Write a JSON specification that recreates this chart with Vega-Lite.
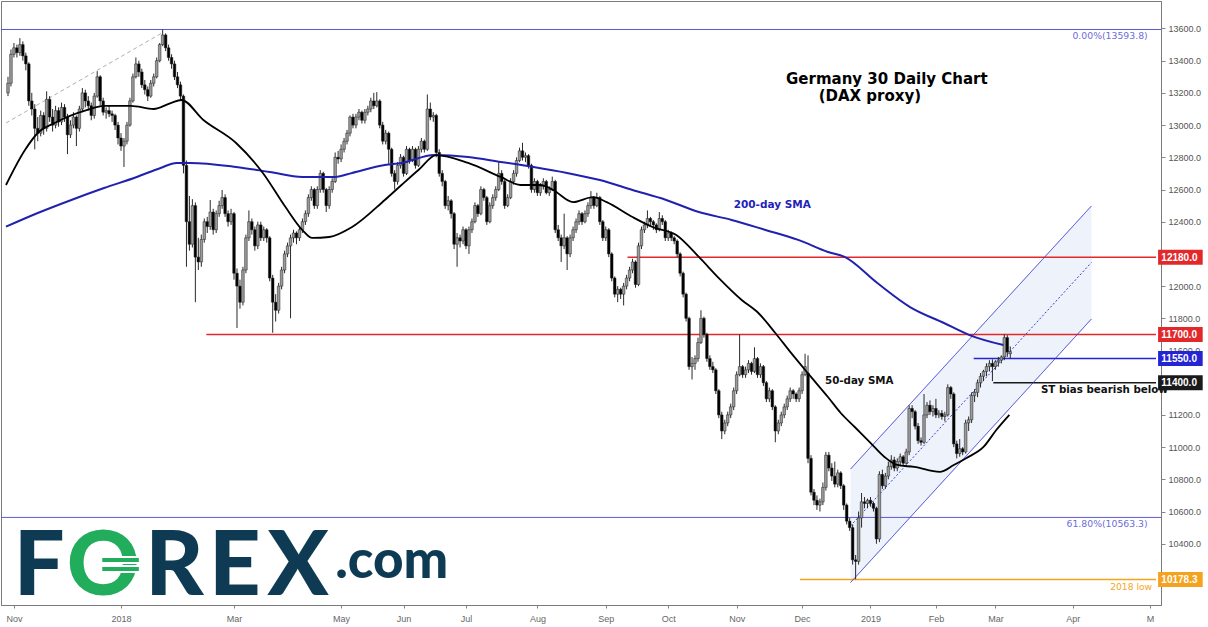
{
  "$schema": "https://vega.github.io/schema/vega-lite/v6.json",
  "width": 1160,
  "height": 604,
  "autosize": {"type": "none"},
  "padding": {"left": 1, "top": 1, "right": 47, "bottom": 22},
  "background": "white",
  "config": {"view": {"stroke": "#7a7a7a", "strokeWidth": 1}, "axis": {"labelOverlap": false, "labelSeparation": 0}},
  "datasets": {
    "candles": [
      {"k":1,"o":13200,"h":13300,"l":13180,"c":13260},{"k":2,"o":13260,"h":13470,"l":13240,"c":13440},{"k":3,"o":13440,"h":13510,"l":13420,"c":13480},{"k":4,"o":13480,"h":13500,"l":13420,"c":13450},{"k":5,"o":13450,"h":13540,"l":13430,"c":13500},
      {"k":6,"o":13500,"h":13520,"l":13400,"c":13430},{"k":7,"o":13430,"h":13450,"l":13340,"c":13380},{"k":8,"o":13380,"h":13390,"l":13120,"c":13150},{"k":9,"o":13150,"h":13200,"l":13060,"c":13100},{"k":10,"o":13100,"h":13130,"l":12850,"c":12980},
      {"k":11,"o":12980,"h":13050,"l":12900,"c":12950},{"k":12,"o":12950,"h":13090,"l":12930,"c":13060},{"k":13,"o":13060,"h":13080,"l":12940,"c":12980},{"k":14,"o":12980,"h":13210,"l":12960,"c":13160},{"k":15,"o":13160,"h":13180,"l":13020,"c":13050},
      {"k":16,"o":13050,"h":13100,"l":12960,"c":13000},{"k":17,"o":13000,"h":13120,"l":12980,"c":13090},{"k":18,"o":13090,"h":13110,"l":12990,"c":13020},{"k":19,"o":13020,"h":13140,"l":13000,"c":13110},{"k":20,"o":13110,"h":13130,"l":13020,"c":13050},
      {"k":21,"o":13050,"h":13070,"l":12820,"c":12940},{"k":22,"o":12940,"h":13030,"l":12920,"c":13000},{"k":23,"o":13000,"h":13080,"l":12980,"c":13050},{"k":24,"o":13050,"h":13060,"l":12870,"c":12980},{"k":25,"o":12980,"h":13120,"l":12960,"c":13100},
      {"k":26,"o":13100,"h":13230,"l":13080,"c":13200},{"k":27,"o":13200,"h":13220,"l":13110,"c":13150},{"k":28,"o":13150,"h":13180,"l":13090,"c":13120},{"k":29,"o":13120,"h":13140,"l":13030,"c":13060},{"k":30,"o":13060,"h":13200,"l":13040,"c":13180},
      {"k":31,"o":13180,"h":13335,"l":13170,"c":13300},{"k":32,"o":13300,"h":13310,"l":13120,"c":13150},{"k":33,"o":13150,"h":13170,"l":13060,"c":13080},{"k":34,"o":13080,"h":13110,"l":13040,"c":13090},{"k":35,"o":13090,"h":13120,"l":13050,"c":13070},
      {"k":36,"o":13070,"h":13090,"l":13020,"c":13060},{"k":37,"o":13060,"h":13070,"l":12970,"c":13000},{"k":38,"o":13000,"h":13020,"l":12880,"c":12920},{"k":39,"o":12920,"h":12950,"l":12840,"c":12870},{"k":40,"o":12870,"h":12920,"l":12740,"c":12900},
      {"k":41,"o":12900,"h":13020,"l":12880,"c":13000},{"k":42,"o":13000,"h":13170,"l":12990,"c":13150},{"k":43,"o":13150,"h":13320,"l":13140,"c":13300},{"k":44,"o":13300,"h":13420,"l":13290,"c":13380},{"k":45,"o":13380,"h":13400,"l":13300,"c":13330},
      {"k":46,"o":13330,"h":13350,"l":13230,"c":13250},{"k":47,"o":13250,"h":13280,"l":13190,"c":13220},{"k":48,"o":13220,"h":13240,"l":13150,"c":13180},{"k":49,"o":13180,"h":13280,"l":13170,"c":13260},{"k":50,"o":13260,"h":13320,"l":13240,"c":13300},
      {"k":51,"o":13300,"h":13420,"l":13290,"c":13400},{"k":52,"o":13400,"h":13510,"l":13390,"c":13500},{"k":53,"o":13500,"h":13594,"l":13490,"c":13560},{"k":54,"o":13560,"h":13570,"l":13460,"c":13480},{"k":55,"o":13480,"h":13500,"l":13400,"c":13420},
      {"k":56,"o":13420,"h":13440,"l":13350,"c":13380},{"k":57,"o":13380,"h":13400,"l":13280,"c":13300},{"k":58,"o":13300,"h":13330,"l":13230,"c":13250},{"k":59,"o":13250,"h":13270,"l":13150,"c":13180},{"k":60,"o":13180,"h":13190,"l":12700,"c":12750},
      {"k":61,"o":12750,"h":12780,"l":12120,"c":12400},{"k":62,"o":12400,"h":12560,"l":12220,"c":12260},{"k":63,"o":12260,"h":12540,"l":12240,"c":12500},{"k":64,"o":12500,"h":12520,"l":11900,"c":12180},{"k":65,"o":12180,"h":12300,"l":12100,"c":12150},
      {"k":66,"o":12150,"h":12320,"l":12120,"c":12290},{"k":67,"o":12290,"h":12420,"l":12270,"c":12400},{"k":68,"o":12400,"h":12430,"l":12330,"c":12370},{"k":69,"o":12370,"h":12535,"l":12350,"c":12460},{"k":70,"o":12460,"h":12480,"l":12320,"c":12350},
      {"k":71,"o":12350,"h":12470,"l":12330,"c":12450},{"k":72,"o":12450,"h":12530,"l":12430,"c":12500},{"k":73,"o":12500,"h":12597,"l":12480,"c":12550},{"k":74,"o":12550,"h":12570,"l":12430,"c":12450},{"k":75,"o":12450,"h":12470,"l":12370,"c":12400},
      {"k":76,"o":12400,"h":12480,"l":12380,"c":12450},{"k":77,"o":12450,"h":12460,"l":12040,"c":12080},{"k":78,"o":12080,"h":12110,"l":11740,"c":12000},{"k":79,"o":12000,"h":12040,"l":11860,"c":11900},{"k":80,"o":11900,"h":12120,"l":11880,"c":12100},
      {"k":81,"o":12100,"h":12320,"l":12080,"c":12300},{"k":82,"o":12300,"h":12470,"l":12280,"c":12400},{"k":83,"o":12400,"h":12420,"l":12320,"c":12350},{"k":84,"o":12350,"h":12370,"l":12220,"c":12250},{"k":85,"o":12250,"h":12400,"l":12230,"c":12380},
      {"k":86,"o":12380,"h":12400,"l":12280,"c":12300},{"k":87,"o":12300,"h":12370,"l":12280,"c":12350},{"k":88,"o":12350,"h":12360,"l":12270,"c":12300},{"k":89,"o":12300,"h":12310,"l":12030,"c":12050},{"k":90,"o":12050,"h":12070,"l":11710,"c":11900},
      {"k":91,"o":11900,"h":11950,"l":11780,"c":11850},{"k":92,"o":11850,"h":12020,"l":11830,"c":12000},{"k":93,"o":12000,"h":12120,"l":11980,"c":12100},{"k":94,"o":12100,"h":12220,"l":12080,"c":12200},{"k":95,"o":12200,"h":12270,"l":12180,"c":12250},
      {"k":96,"o":12250,"h":12320,"l":11800,"c":12300},{"k":97,"o":12300,"h":12350,"l":12270,"c":12330},{"k":98,"o":12330,"h":12340,"l":12260,"c":12300},{"k":99,"o":12300,"h":12370,"l":12280,"c":12350},{"k":100,"o":12350,"h":12420,"l":12330,"c":12400},
      {"k":101,"o":12400,"h":12470,"l":12380,"c":12450},{"k":102,"o":12450,"h":12570,"l":12430,"c":12550},{"k":103,"o":12550,"h":12620,"l":12530,"c":12600},{"k":104,"o":12600,"h":12610,"l":12480,"c":12500},{"k":105,"o":12500,"h":12620,"l":12480,"c":12600},
      {"k":106,"o":12600,"h":12720,"l":12580,"c":12700},{"k":107,"o":12700,"h":12710,"l":12580,"c":12600},{"k":108,"o":12600,"h":12610,"l":12460,"c":12500},{"k":109,"o":12500,"h":12620,"l":12480,"c":12600},{"k":110,"o":12600,"h":12670,"l":12580,"c":12650},
      {"k":111,"o":12650,"h":12830,"l":12640,"c":12800},{"k":112,"o":12800,"h":12840,"l":12760,"c":12790},{"k":113,"o":12790,"h":12880,"l":12770,"c":12850},{"k":114,"o":12850,"h":12920,"l":12830,"c":12900},{"k":115,"o":12900,"h":12970,"l":12880,"c":12950},
      {"k":116,"o":12950,"h":13060,"l":12930,"c":13050},{"k":117,"o":13050,"h":13070,"l":12980,"c":13000},{"k":118,"o":13000,"h":13070,"l":12980,"c":13050},{"k":119,"o":13050,"h":13100,"l":13030,"c":13080},{"k":120,"o":13080,"h":13090,"l":13010,"c":13030},
      {"k":121,"o":13030,"h":13100,"l":13010,"c":13080},{"k":122,"o":13080,"h":13120,"l":13060,"c":13100},{"k":123,"o":13100,"h":13170,"l":13080,"c":13150},{"k":124,"o":13150,"h":13200,"l":13100,"c":13120},{"k":125,"o":13120,"h":13205,"l":13110,"c":13150},
      {"k":126,"o":13150,"h":13160,"l":12980,"c":13000},{"k":127,"o":13000,"h":13020,"l":12880,"c":12900},{"k":128,"o":12900,"h":12970,"l":12880,"c":12950},{"k":129,"o":12950,"h":12960,"l":12760,"c":12850},{"k":130,"o":12850,"h":12860,"l":12680,"c":12700},
      {"k":131,"o":12700,"h":12720,"l":12600,"c":12650},{"k":132,"o":12650,"h":12770,"l":12630,"c":12750},{"k":133,"o":12750,"h":12820,"l":12730,"c":12800},{"k":134,"o":12800,"h":12810,"l":12680,"c":12700},{"k":135,"o":12700,"h":12870,"l":12690,"c":12850},
      {"k":136,"o":12850,"h":12860,"l":12760,"c":12780},{"k":137,"o":12780,"h":12870,"l":12770,"c":12850},{"k":138,"o":12850,"h":12860,"l":12730,"c":12750},{"k":139,"o":12750,"h":12870,"l":12740,"c":12850},{"k":140,"o":12850,"h":12920,"l":12830,"c":12900},
      {"k":141,"o":12900,"h":12910,"l":12830,"c":12850},{"k":142,"o":12850,"h":13190,"l":12840,"c":13100},{"k":143,"o":13100,"h":13140,"l":13030,"c":13050},{"k":144,"o":13050,"h":13080,"l":13020,"c":13060},{"k":145,"o":13060,"h":13070,"l":12800,"c":12830},
      {"k":146,"o":12830,"h":12850,"l":12680,"c":12700},{"k":147,"o":12700,"h":12720,"l":12620,"c":12650},{"k":148,"o":12650,"h":12660,"l":12480,"c":12500},{"k":149,"o":12500,"h":12560,"l":12470,"c":12530},{"k":150,"o":12530,"h":12540,"l":12420,"c":12450},
      {"k":151,"o":12450,"h":12460,"l":12230,"c":12260},{"k":152,"o":12260,"h":12330,"l":12120,"c":12300},{"k":153,"o":12300,"h":12320,"l":12240,"c":12280},{"k":154,"o":12280,"h":12370,"l":12260,"c":12350},{"k":155,"o":12350,"h":12360,"l":12230,"c":12250},
      {"k":156,"o":12250,"h":12370,"l":12200,"c":12350},{"k":157,"o":12350,"h":12420,"l":12330,"c":12400},{"k":158,"o":12400,"h":12520,"l":12390,"c":12500},{"k":159,"o":12500,"h":12510,"l":12430,"c":12450},{"k":160,"o":12450,"h":12620,"l":12440,"c":12600},
      {"k":161,"o":12600,"h":12610,"l":12530,"c":12550},{"k":162,"o":12550,"h":12560,"l":12380,"c":12400},{"k":163,"o":12400,"h":12520,"l":12390,"c":12500},{"k":164,"o":12500,"h":12570,"l":12480,"c":12550},{"k":165,"o":12550,"h":12620,"l":12530,"c":12600},
      {"k":166,"o":12600,"h":12770,"l":12590,"c":12700},{"k":167,"o":12700,"h":12720,"l":12630,"c":12650},{"k":168,"o":12650,"h":12660,"l":12480,"c":12500},{"k":169,"o":12500,"h":12570,"l":12490,"c":12550},{"k":170,"o":12550,"h":12670,"l":12540,"c":12650},
      {"k":171,"o":12650,"h":12720,"l":12630,"c":12700},{"k":172,"o":12700,"h":12800,"l":12680,"c":12780},{"k":173,"o":12780,"h":12860,"l":12770,"c":12840},{"k":174,"o":12840,"h":12890,"l":12780,"c":12800},{"k":175,"o":12800,"h":12830,"l":12770,"c":12810},
      {"k":176,"o":12810,"h":12820,"l":12730,"c":12750},{"k":177,"o":12750,"h":12760,"l":12580,"c":12600},{"k":178,"o":12600,"h":12670,"l":12580,"c":12650},{"k":179,"o":12650,"h":12660,"l":12560,"c":12580},{"k":180,"o":12580,"h":12640,"l":12560,"c":12620},
      {"k":181,"o":12620,"h":12670,"l":12600,"c":12650},{"k":182,"o":12650,"h":12660,"l":12570,"c":12580},{"k":183,"o":12580,"h":12620,"l":12560,"c":12600},{"k":184,"o":12600,"h":12680,"l":12590,"c":12650},{"k":185,"o":12650,"h":12660,"l":12330,"c":12350},
      {"k":186,"o":12350,"h":12380,"l":12280,"c":12300},{"k":187,"o":12300,"h":12320,"l":12150,"c":12250},{"k":188,"o":12250,"h":12450,"l":12230,"c":12300},{"k":189,"o":12300,"h":12310,"l":12100,"c":12200},{"k":190,"o":12200,"h":12320,"l":12180,"c":12300},
      {"k":191,"o":12300,"h":12370,"l":12280,"c":12350},{"k":192,"o":12350,"h":12420,"l":12330,"c":12400},{"k":193,"o":12400,"h":12470,"l":12380,"c":12450},{"k":194,"o":12450,"h":12460,"l":12380,"c":12400},{"k":195,"o":12400,"h":12470,"l":12390,"c":12450},
      {"k":196,"o":12450,"h":12520,"l":12430,"c":12500},{"k":197,"o":12500,"h":12590,"l":12480,"c":12550},{"k":198,"o":12550,"h":12560,"l":12480,"c":12500},{"k":199,"o":12500,"h":12580,"l":12490,"c":12550},{"k":200,"o":12550,"h":12560,"l":12380,"c":12400},
      {"k":201,"o":12400,"h":12410,"l":12280,"c":12300},{"k":202,"o":12300,"h":12370,"l":12280,"c":12350},{"k":203,"o":12350,"h":12360,"l":12180,"c":12200},{"k":204,"o":12200,"h":12210,"l":12030,"c":12050},{"k":205,"o":12050,"h":12060,"l":11930,"c":11950},
      {"k":206,"o":11950,"h":12000,"l":11900,"c":11980},{"k":207,"o":11980,"h":11990,"l":11920,"c":11950},{"k":208,"o":11950,"h":12020,"l":11880,"c":12000},{"k":209,"o":12000,"h":12070,"l":11980,"c":12050},{"k":210,"o":12050,"h":12120,"l":12030,"c":12100},
      {"k":211,"o":12100,"h":12170,"l":12080,"c":12150},{"k":212,"o":12150,"h":12160,"l":11990,"c":12010},{"k":213,"o":12010,"h":12270,"l":12000,"c":12250},{"k":214,"o":12250,"h":12370,"l":12230,"c":12350},{"k":215,"o":12350,"h":12400,"l":12330,"c":12380},
      {"k":216,"o":12380,"h":12470,"l":12360,"c":12420},{"k":217,"o":12420,"h":12430,"l":12370,"c":12400},{"k":218,"o":12400,"h":12410,"l":12350,"c":12380},{"k":219,"o":12380,"h":12390,"l":12330,"c":12350},{"k":220,"o":12350,"h":12460,"l":12340,"c":12420},
      {"k":221,"o":12420,"h":12440,"l":12380,"c":12400},{"k":222,"o":12400,"h":12410,"l":12280,"c":12300},{"k":223,"o":12300,"h":12350,"l":12280,"c":12330},{"k":224,"o":12330,"h":12340,"l":12280,"c":12300},{"k":225,"o":12300,"h":12310,"l":12260,"c":12280},
      {"k":226,"o":12280,"h":12290,"l":12180,"c":12200},{"k":227,"o":12200,"h":12210,"l":12060,"c":12080},{"k":228,"o":12080,"h":12090,"l":11930,"c":11950},{"k":229,"o":11950,"h":11960,"l":11780,"c":11800},{"k":230,"o":11800,"h":11810,"l":11480,"c":11500},
      {"k":231,"o":11500,"h":11560,"l":11420,"c":11520},{"k":232,"o":11520,"h":11570,"l":11480,"c":11550},{"k":233,"o":11550,"h":11680,"l":11530,"c":11650},{"k":234,"o":11650,"h":11850,"l":11640,"c":11800},{"k":235,"o":11800,"h":11810,"l":11680,"c":11700},
      {"k":236,"o":11700,"h":11710,"l":11530,"c":11550},{"k":237,"o":11550,"h":11570,"l":11480,"c":11500},{"k":238,"o":11500,"h":11530,"l":11460,"c":11480},{"k":239,"o":11480,"h":11490,"l":11330,"c":11350},{"k":240,"o":11350,"h":11360,"l":11180,"c":11200},
      {"k":241,"o":11200,"h":11220,"l":11050,"c":11100},{"k":242,"o":11100,"h":11170,"l":11080,"c":11150},{"k":243,"o":11150,"h":11220,"l":11130,"c":11200},{"k":244,"o":11200,"h":11270,"l":11180,"c":11250},{"k":245,"o":11250,"h":11370,"l":11230,"c":11350},
      {"k":246,"o":11350,"h":11470,"l":11330,"c":11450},{"k":247,"o":11450,"h":11700,"l":11440,"c":11500},{"k":248,"o":11500,"h":11510,"l":11430,"c":11450},{"k":249,"o":11450,"h":11500,"l":11430,"c":11480},{"k":250,"o":11480,"h":11540,"l":11460,"c":11520},
      {"k":251,"o":11520,"h":11530,"l":11450,"c":11470},{"k":252,"o":11470,"h":11620,"l":11460,"c":11550},{"k":253,"o":11550,"h":11560,"l":11430,"c":11450},{"k":254,"o":11450,"h":11520,"l":11430,"c":11500},{"k":255,"o":11500,"h":11510,"l":11380,"c":11400},
      {"k":256,"o":11400,"h":11410,"l":11280,"c":11300},{"k":257,"o":11300,"h":11370,"l":11280,"c":11350},{"k":258,"o":11350,"h":11360,"l":11230,"c":11250},{"k":259,"o":11250,"h":11260,"l":11030,"c":11100},{"k":260,"o":11100,"h":11170,"l":11080,"c":11150},
      {"k":261,"o":11150,"h":11220,"l":11130,"c":11200},{"k":262,"o":11200,"h":11270,"l":11180,"c":11250},{"k":263,"o":11250,"h":11320,"l":11230,"c":11300},{"k":264,"o":11300,"h":11370,"l":11280,"c":11350},{"k":265,"o":11350,"h":11360,"l":11300,"c":11330},
      {"k":266,"o":11330,"h":11340,"l":11280,"c":11300},{"k":267,"o":11300,"h":11370,"l":11280,"c":11350},{"k":268,"o":11350,"h":11470,"l":11330,"c":11450},{"k":269,"o":11450,"h":11580,"l":11440,"c":11500},{"k":270,"o":11460,"h":11570,"l":10900,"c":10930},
      {"k":271,"o":10930,"h":10950,"l":10700,"c":10720},{"k":272,"o":10720,"h":10740,"l":10640,"c":10670},{"k":273,"o":10670,"h":10700,"l":10610,"c":10640},{"k":274,"o":10640,"h":10680,"l":10600,"c":10660},{"k":275,"o":10660,"h":10780,"l":10640,"c":10750},
      {"k":276,"o":10750,"h":10970,"l":10730,"c":10950},{"k":277,"o":10950,"h":10970,"l":10850,"c":10870},{"k":278,"o":10870,"h":10900,"l":10790,"c":10820},{"k":279,"o":10820,"h":10910,"l":10750,"c":10770},{"k":280,"o":10770,"h":10860,"l":10750,"c":10840},
      {"k":281,"o":10840,"h":10850,"l":10740,"c":10760},{"k":282,"o":10760,"h":10770,"l":10610,"c":10640},{"k":283,"o":10640,"h":10650,"l":10520,"c":10540},{"k":284,"o":10540,"h":10560,"l":10480,"c":10500},{"k":285,"o":10500,"h":10520,"l":10270,"c":10300},
      {"k":286,"o":10300,"h":10330,"l":10179,"c":10290},{"k":287,"o":10290,"h":10600,"l":10270,"c":10560},{"k":288,"o":10560,"h":10715,"l":10500,"c":10660},{"k":289,"o":10660,"h":10690,"l":10620,"c":10650},{"k":290,"o":10650,"h":10680,"l":10620,"c":10670},
      {"k":291,"o":10670,"h":10690,"l":10630,"c":10650},{"k":292,"o":10650,"h":10660,"l":10600,"c":10620},{"k":293,"o":10620,"h":10630,"l":10400,"c":10430},{"k":294,"o":10430,"h":10850,"l":10410,"c":10830},{"k":295,"o":10830,"h":10860,"l":10740,"c":10760},
      {"k":296,"o":10760,"h":10840,"l":10740,"c":10820},{"k":297,"o":10820,"h":10910,"l":10800,"c":10880},{"k":298,"o":10880,"h":10950,"l":10860,"c":10920},{"k":299,"o":10920,"h":10940,"l":10850,"c":10870},{"k":300,"o":10870,"h":10930,"l":10850,"c":10910},
      {"k":301,"o":10910,"h":10960,"l":10880,"c":10940},{"k":302,"o":10940,"h":10950,"l":10880,"c":10900},{"k":303,"o":10900,"h":10990,"l":10890,"c":10970},{"k":304,"o":10970,"h":11260,"l":10950,"c":11240},{"k":305,"o":11240,"h":11260,"l":11180,"c":11220},
      {"k":306,"o":11220,"h":11230,"l":11110,"c":11130},{"k":307,"o":11130,"h":11150,"l":11020,"c":11040},{"k":308,"o":11040,"h":11060,"l":11010,"c":11030},{"k":309,"o":11030,"h":11330,"l":11020,"c":11200},{"k":310,"o":11200,"h":11280,"l":11180,"c":11260},
      {"k":311,"o":11260,"h":11290,"l":11200,"c":11220},{"k":312,"o":11220,"h":11260,"l":11190,"c":11240},{"k":313,"o":11240,"h":11300,"l":11180,"c":11200},{"k":314,"o":11200,"h":11230,"l":11180,"c":11210},{"k":315,"o":11210,"h":11230,"l":11170,"c":11190},
      {"k":316,"o":11190,"h":11220,"l":11160,"c":11200},{"k":317,"o":11200,"h":11390,"l":11190,"c":11370},{"k":318,"o":11370,"h":11380,"l":11300,"c":11330},{"k":319,"o":11330,"h":11340,"l":11000,"c":11020},{"k":320,"o":11020,"h":11040,"l":10930,"c":10960},
      {"k":321,"o":10960,"h":11050,"l":10940,"c":10990},{"k":322,"o":10990,"h":11000,"l":10950,"c":10970},{"k":323,"o":10970,"h":11170,"l":10960,"c":11150},{"k":324,"o":11150,"h":11190,"l":11100,"c":11170},{"k":325,"o":11170,"h":11340,"l":11150,"c":11320},
      {"k":326,"o":11320,"h":11360,"l":11280,"c":11340},{"k":327,"o":11340,"h":11420,"l":11310,"c":11400},{"k":328,"o":11400,"h":11460,"l":11370,"c":11440},{"k":329,"o":11440,"h":11480,"l":11410,"c":11470},{"k":330,"o":11470,"h":11520,"l":11440,"c":11500},
      {"k":331,"o":11500,"h":11540,"l":11470,"c":11520},{"k":332,"o":11520,"h":11545,"l":11410,"c":11500},{"k":333,"o":11500,"h":11540,"l":11480,"c":11530},{"k":334,"o":11530,"h":11560,"l":11500,"c":11540},{"k":335,"o":11540,"h":11570,"l":11520,"c":11560},
      {"k":336,"o":11560,"h":11700,"l":11540,"c":11680},{"k":337,"o":11680,"h":11695,"l":11560,"c":11590},{"k":338,"o":11580,"h":11625,"l":11550,"c":11593}
    ],
    "sma50": [
      {"k":0.33,"p":12628},{"k":6.7,"p":12845},{"k":11,"p":12951},{"k":16.7,"p":13013},{"k":27.7,"p":13094},{"k":33.3,"p":13119},{"k":42.3,"p":13119},{"k":50,"p":13100},{"k":55.7,"p":13137},{"k":59.3,"p":13156},
      {"k":66.7,"p":13032},{"k":77.7,"p":12889},{"k":86.7,"p":12703},{"k":94.3,"p":12491},{"k":100,"p":12348},{"k":103.3,"p":12299},{"k":109,"p":12305},{"k":116.7,"p":12367},{"k":127.7,"p":12535},{"k":133.3,"p":12628},
      {"k":139,"p":12721},{"k":145,"p":12814},{"k":155.7,"p":12765},{"k":166.7,"p":12678},{"k":173.3,"p":12628},{"k":180,"p":12628},{"k":184.3,"p":12597},{"k":191,"p":12522},{"k":197.7,"p":12553},{"k":202.3,"p":12522},
      {"k":211,"p":12429},{"k":217.7,"p":12367},{"k":225.7,"p":12317},{"k":233.3,"p":12181},{"k":240,"p":12050},{"k":247.7,"p":11914},{"k":253.3,"p":11833},{"k":259,"p":11709},{"k":264.3,"p":11585},{"k":271,"p":11436},
      {"k":276.7,"p":11311},{"k":281,"p":11212},{"k":285.7,"p":11125},{"k":291,"p":11026},{"k":295.7,"p":10939},{"k":300,"p":10889},{"k":305.7,"p":10877},{"k":314.3,"p":10846},{"k":319,"p":10889},{"k":323.3,"p":10933},
      {"k":329,"p":11001},{"k":333.3,"p":11106},{"k":337.7,"p":11200}
    ],
    "sma200": [
      {"k":0.33,"p":12369},{"k":11,"p":12454},{"k":22.3,"p":12535},{"k":33.3,"p":12609},{"k":44.3,"p":12678},{"k":52.3,"p":12734},{"k":57.7,"p":12765},{"k":62.3,"p":12765},{"k":77.7,"p":12740},{"k":89,"p":12709},
      {"k":100,"p":12678},{"k":111,"p":12678},{"k":116.7,"p":12703},{"k":127.7,"p":12752},{"k":133.3,"p":12765},{"k":144.3,"p":12814},{"k":155.7,"p":12802},{"k":166.7,"p":12771},{"k":177.7,"p":12740},{"k":189,"p":12703},
      {"k":200,"p":12659},{"k":211,"p":12597},{"k":222.3,"p":12535},{"k":233.3,"p":12460},{"k":244.3,"p":12411},{"k":255.7,"p":12349},{"k":266.7,"p":12287},{"k":276.7,"p":12212},{"k":282.3,"p":12181},{"k":293.3,"p":12019},
      {"k":304.3,"p":11870},{"k":315.7,"p":11771},{"k":324.3,"p":11696},{"k":335.7,"p":11634}
    ],
    "chan": [
      {"k":284.3,"p":10864,"ln":"upper"},{"k":365.3,"p":12498,"ln":"upper"},
      {"k":284.3,"p":10159,"ln":"lower"},{"k":365.3,"p":11796,"ln":"lower"},
      {"k":284.3,"p":10511,"ln":"mid"},{"k":365.3,"p":12147,"ln":"mid"}
    ],
    "band": [{"k":284.3,"lo":10159,"hi":10864},{"k":365.3,"lo":11796,"hi":12498}],
    "fib": [{"p":13593.8,"lab":"0.00%(13593.8)","lp":13535},{"p":10563.3,"lab":"61.80%(10563.3)","lp":10504}],
    "levels": [
      {"p":12180,"from":209.3,"kind":"res","lab":"12180.0"},
      {"p":11700,"from":67.7,"kind":"res","lab":"11700.0"},
      {"p":11550,"from":325.7,"kind":"pivot","lab":"11550.0"},
      {"p":11400,"from":332.3,"kind":"bias","lab":"11400.0"},
      {"p":10178.3,"from":267.3,"kind":"low","lab":"10178.3"}
    ],
    "trend": [{"k":0.33,"p":13013},{"k":53.3,"p":13578}],
    "eurobars": [{"k":32.7,"k2":45,"p":10299},{"k":32.7,"k2":45,"p":10243}]
  },
  "layer": [
    {
      "data": {"name": "band"},
      "mark": {"type": "area", "color": "#edf2fb", "opacity": 1},
      "encoding": {
        "x": {"field": "k", "type": "quantitative", "title": null,
          "scale": {"type": "linear", "domain": [0.33, 387], "nice": false, "zero": false},
          "axis": {"orient": "bottom", "title": null, "grid": false,
            "values": [3, 39, 77, 113, 134, 155, 179, 202, 223, 246, 268, 291, 313, 333, 359, 385],
            "labelExpr": "['Nov','2018','Mar','May','Jun','Jul','Aug','Sep','Oct','Nov','Dec','2019','Feb','Mar','Apr','M'][indexof([3,39,77,113,134,155,179,202,223,246,268,291,313,333,359,385], datum.value)]",
            "labelFont": "Liberation Sans", "labelFontSize": 9, "labelColor": "#666", "labelOverlap": false,
            "tickSize": 3, "tickColor": "#888", "domainColor": "#7a7a7a", "labelPadding": 6}},
        "y": {"field": "lo", "type": "quantitative", "title": null,
          "scale": {"type": "linear", "domain": [10019.4, 13770.8], "nice": false, "zero": false},
          "axis": {"orient": "right", "title": null, "grid": false,
            "values": [10400, 10600, 10800, 11000, 11200, 11600, 11800, 12000, 12400, 12600, 12800, 13000, 13200, 13400, 13600],
            "format": ".1f", "labelFont": "Liberation Sans", "labelFontSize": 9, "labelColor": "#555", "labelOverlap": false,
            "tickSize": 4, "tickColor": "#888", "domainColor": "#7a7a7a", "labelPadding": 3}},
        "y2": {"field": "hi"}
      }
    },
    {
      "data": {"name": "fib"},
      "mark": {"type": "rule", "color": "#5c5cd0", "strokeWidth": 1},
      "encoding": {"y": {"field": "p", "type": "quantitative", "title": null}}
    },
    {
      "data": {"name": "fib"},
      "mark": {"type": "text", "align": "right", "baseline": "alphabetic", "font": "DejaVu Sans", "fontSize": 9.3, "color": "#6c6cd8"},
      "encoding": {
        "x": {"datum": 384.2},
        "y": {"field": "lp", "type": "quantitative", "title": null},
        "text": {"field": "lab"}
      }
    },
    {
      "data": {"name": "levels"},
      "mark": {"type": "rule", "strokeWidth": 1.5},
      "encoding": {
        "x": {"field": "from", "type": "quantitative", "title": null},
        "x2": {"datum": 387},
        "y": {"field": "p", "type": "quantitative", "title": null},
        "color": {"field": "kind", "type": "nominal", "legend": null,
          "scale": {"domain": ["res", "pivot", "bias", "low"], "range": ["#e3282b", "#2424d4", "#1a1a1a", "#f5a21e"]}}
      }
    },
    {
      "data": {"name": "trend"},
      "mark": {"type": "line", "color": "#b0b0b0", "strokeWidth": 1, "strokeDash": [4, 3], "clip": true},
      "encoding": {
        "x": {"field": "k", "type": "quantitative", "title": null},
        "y": {"field": "p", "type": "quantitative", "title": null}
      }
    },
    {
      "data": {"name": "chan"},
      "mark": {"type": "line", "color": "#3b3bd4", "strokeWidth": 1},
      "encoding": {
        "x": {"field": "k", "type": "quantitative", "title": null},
        "y": {"field": "p", "type": "quantitative", "title": null},
        "detail": {"field": "ln"},
        "strokeDash": {"field": "ln", "type": "nominal", "legend": null,
          "scale": {"domain": ["upper", "lower", "mid"], "range": [[1, 0], [1, 0], [2, 2]]}},
        "strokeOpacity": {"field": "ln", "type": "nominal", "legend": null,
          "scale": {"domain": ["upper", "lower", "mid"], "range": [1, 1, 0.6]}}
      }
    },
    {
      "data": {"name": "candles"},
      "mark": {"type": "rule", "color": "#2a2a2a", "strokeWidth": 1},
      "encoding": {
        "x": {"field": "k", "type": "quantitative", "title": null},
        "y": {"field": "l", "type": "quantitative", "title": null},
        "y2": {"field": "h"}
      }
    },
    {
      "data": {"name": "candles"},
      "mark": {"type": "bar", "size": 2.6, "stroke": "#1e1e1e", "strokeWidth": 0.5},
      "encoding": {
        "x": {"field": "k", "type": "quantitative", "title": null},
        "y": {"field": "o", "type": "quantitative", "title": null},
        "y2": {"field": "c"},
        "fill": {"condition": {"test": "datum.c >= datum.o", "value": "#9b9b9b"}, "value": "#000000"}
      }
    },
    {
      "data": {"name": "sma200"},
      "mark": {"type": "line", "color": "#2121b0", "strokeWidth": 2, "interpolate": "monotone", "clip": true},
      "encoding": {
        "x": {"field": "k", "type": "quantitative", "title": null},
        "y": {"field": "p", "type": "quantitative", "title": null}
      }
    },
    {
      "data": {"name": "sma50"},
      "mark": {"type": "line", "color": "#000000", "strokeWidth": 1.8, "interpolate": "monotone", "clip": true},
      "encoding": {
        "x": {"field": "k", "type": "quantitative", "title": null},
        "y": {"field": "p", "type": "quantitative", "title": null}
      }
    },
    {
      "data": {"values": [{"t": "Germany 30 Daily Chart", "k": 296.5, "p": 13257}, {"t": "(DAX proxy)", "k": 290.8, "p": 13148}]},
      "mark": {"type": "text", "align": "center", "baseline": "alphabetic", "font": "DejaVu Sans", "fontWeight": "bold", "fontSize": 15, "color": "#000000"},
      "encoding": {
        "x": {"field": "k", "type": "quantitative", "title": null},
        "y": {"field": "p", "type": "quantitative", "title": null},
        "text": {"field": "t"}
      }
    },
    {
      "data": {"values": [{"t": "200-day SMA", "k": 245, "p": 12487}]},
      "mark": {"type": "text", "align": "left", "baseline": "alphabetic", "font": "DejaVu Sans", "fontWeight": "bold", "fontSize": 10.5, "color": "#2323b8"},
      "encoding": {
        "x": {"field": "k", "type": "quantitative", "title": null},
        "y": {"field": "p", "type": "quantitative", "title": null},
        "text": {"field": "t"}
      }
    },
    {
      "data": {"values": [{"t": "50-day SMA", "k": 275.7, "p": 11395}, {"t": "ST bias bearish below", "k": 348.3, "p": 11336}]},
      "mark": {"type": "text", "align": "left", "baseline": "alphabetic", "font": "DejaVu Sans", "fontWeight": "bold", "fontSize": 10.3, "color": "#111111"},
      "encoding": {
        "x": {"field": "k", "type": "quantitative", "title": null},
        "y": {"field": "p", "type": "quantitative", "title": null},
        "text": {"field": "t"}
      }
    },
    {
      "data": {"values": [{"t": "2018 low", "k": 385.7, "p": 10112.6}]},
      "mark": {"type": "text", "align": "right", "baseline": "alphabetic", "font": "DejaVu Sans", "fontSize": 9.2, "color": "#f5a623"},
      "encoding": {
        "x": {"field": "k", "type": "quantitative", "title": null},
        "y": {"field": "p", "type": "quantitative", "title": null},
        "text": {"field": "t"}
      }
    },
    {
      "data": {"values": [{"t": "F", "k": 11.5}, {"t": "R", "k": 57}, {"t": "E", "k": 77.3}, {"t": "X", "k": 98.5}]},
      "mark": {"type": "text", "align": "center", "baseline": "alphabetic", "font": "Lato", "fontWeight": 900, "fontSize": 90, "color": "#0e3b53"},
      "encoding": {
        "x": {"field": "k", "type": "quantitative", "title": null},
        "y": {"datum": 10081.6},
        "text": {"field": "t"}
      }
    },
    {
      "data": {"values": [{"t": "O", "k": 33}]},
      "mark": {"type": "text", "align": "center", "baseline": "alphabetic", "font": "Lato", "fontWeight": 900, "fontSize": 90, "color": "#22ad5c"},
      "encoding": {
        "x": {"field": "k", "type": "quantitative", "title": null},
        "y": {"datum": 10081.6},
        "text": {"field": "t"}
      }
    },
    {
      "data": {"name": "eurobars"},
      "mark": {"type": "rule", "color": "#ffffff", "strokeWidth": 8, "strokeCap": "butt"},
      "encoding": {
        "x": {"field": "k", "type": "quantitative", "title": null},
        "x2": {"field": "k2"},
        "y": {"field": "p", "type": "quantitative", "title": null}
      }
    },
    {
      "data": {"name": "eurobars"},
      "mark": {"type": "rule", "color": "#22ad5c", "strokeWidth": 4, "strokeCap": "butt"},
      "encoding": {
        "x": {"field": "k", "type": "quantitative", "title": null},
        "x2": {"field": "k2"},
        "y": {"field": "p", "type": "quantitative", "title": null}
      }
    },
    {
      "data": {"values": [{"t": ".com", "k": 111}]},
      "mark": {"type": "text", "align": "left", "baseline": "alphabetic", "font": "Lato", "fontWeight": 900, "fontSize": 53, "color": "#0e3b53"},
      "encoding": {
        "x": {"field": "k", "type": "quantitative", "title": null},
        "y": {"datum": 10187},
        "text": {"field": "t"}
      }
    },
    {
      "data": {"name": "levels"},
      "mark": {"type": "rule", "strokeWidth": 15, "strokeCap": "butt"},
      "encoding": {
        "x": {"datum": 387.7},
        "x2": {"datum": 402.7},
        "y": {"field": "p", "type": "quantitative", "title": null},
        "color": {"field": "kind", "type": "nominal", "legend": null}
      }
    },
    {
      "data": {"name": "levels"},
      "mark": {"type": "text", "align": "left", "baseline": "middle", "font": "Liberation Sans", "fontSize": 10, "fontWeight": "bold", "color": "#ffffff", "dy": 0.5},
      "encoding": {
        "x": {"datum": 388.8},
        "y": {"field": "p", "type": "quantitative", "title": null},
        "text": {"field": "lab"}
      }
    }
  ]
}
